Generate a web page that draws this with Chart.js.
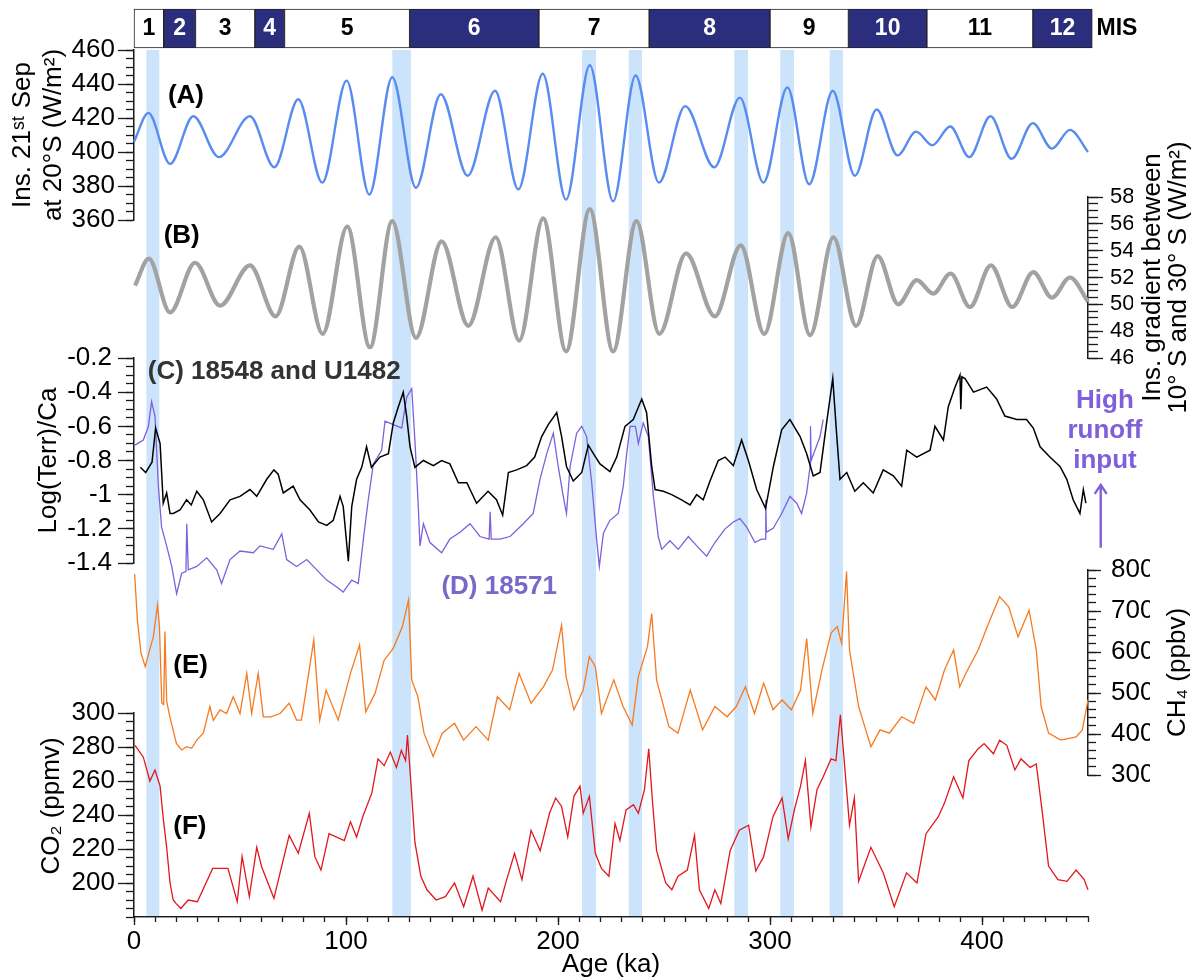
<!DOCTYPE html>
<html>
<head>
<meta charset="utf-8">
<script src="https://cdn.jsdelivr.net/npm/chart.js@4.4.1/dist/chart.umd.min.js"></script>
<style>
  html, body { margin: 0; padding: 0; background: #fff; }
  #wrap { position: relative; width: 1203px; height: 980px; }
  #wrap canvas { position: absolute; left: 0; top: 0; }
</style>
</head>
<body>
<div id="wrap">
  <canvas id="bands" width="1203" height="980"></canvas>
  <canvas id="panelA" width="1203" height="980"></canvas>
  <canvas id="panelB" width="1203" height="980"></canvas>
  <canvas id="panelC" width="1203" height="980"></canvas>
  <canvas id="panelE" width="1203" height="980"></canvas>
  <canvas id="panelF" width="1203" height="980"></canvas>
  <canvas id="mis" width="1203" height="980"></canvas>
</div>
<script>
// ---- data ----
// Marine isotope stages (ka)
const misStages = ['1', '2', '3', '4', '5', '6', '7', '8', '9', '10', '11', '12'];
const misStart = [0, 14, 29, 57, 71, 130, 191, 243, 300, 337, 374, 424];
const misEnd = [14, 29, 57, 71, 130, 191, 243, 300, 337, 374, 424, 452];

// highlighted intervals (ka)
const bandStart = [6, 122, 211.5, 233.5, 283.3, 305, 328.3];
const bandEnd = [11.8, 130.5, 217.8, 239.5, 289.5, 311.2, 334.3];

// (A) insolation 21st Sep at 20°S, W/m2
const insAge = [0, 6.8, 17, 28, 40, 54.7, 66.2, 77.5, 88.8, 100.3, 111, 121.8, 133, 144.7, 157.4, 170.3, 181.3, 192.8, 203.8, 215,
  226, 236.6, 247.6, 260, 273.7, 285.8, 296.9, 308.2, 318.5, 329.6, 340, 350.3, 360.2, 368.9, 376.6, 385, 394, 404, 414, 424, 433, 441.5, 450];
const insVal = [406, 423, 393, 421, 397, 421, 391, 431, 382, 442, 375, 444, 379, 434, 386, 436, 378, 446, 372, 451,
  371, 445, 382, 427, 391, 432, 382, 438, 381, 436, 386, 425, 398, 412, 404, 415, 397, 421, 396, 417, 402, 413, 400];

// (B) insolation gradient 10°S - 30°S, W/m2
const gradAge = [0.5, 7, 17, 28.8, 40.6, 54.7, 66.8, 78, 89, 100.6, 111.3, 121.8, 133, 145.1, 157.7, 170.6, 181.7, 193, 203.8, 215,
  226, 237, 247.8, 260.4, 274, 286.2, 297.3, 308.6, 318.9, 329.9, 340.6, 350.8, 360.5, 369.2, 377, 385.2, 394.3, 404.2, 414.3, 424.2, 433, 441.5, 450];
const gradVal = [51.4, 53.4, 49.4, 53.1, 49.9, 52.9, 49.1, 54.3, 47.8, 55.8, 46.8, 56.2, 47.5, 54.7, 48.4, 55.0, 47.3, 56.4, 46.5, 57.1,
  46.5, 56.2, 47.8, 53.8, 49.1, 54.4, 47.8, 55.3, 47.7, 55.0, 48.4, 53.6, 50.0, 51.8, 50.8, 52.3, 49.8, 52.9, 49.8, 52.4, 50.5, 52.0, 50.2];

// (C) Log(Terr/Ca) 18548 and U1482
const terrAge = [3, 5.5, 8.5, 10.2, 12.3, 13.8, 15.4, 17, 18.5, 21.7, 24.8, 27, 29.6, 32.7, 36.6, 40.6, 45.3, 50, 54.7, 57.9,
  62.6, 66, 68, 70.4, 75.1, 78.3, 83, 87, 90.9, 94, 97.2, 98.7, 101.1, 102.7, 105, 107.4, 109.7, 112, 116, 120,
  122.3, 124.7, 127, 128.6, 130.2, 132.5, 136.5, 141.2, 145.1, 149, 153, 157, 161.6, 167, 171, 173.9, 176.6, 180.5, 185.2, 189,
  192.3, 195.4, 199.4, 201.7, 204, 207.2, 211.2, 214.3, 216.7, 219.8, 224.5, 227.7, 231.6, 235.5, 239.5, 241.8, 244.2, 245.8, 249.7, 253.6,
  258.3, 262.3, 265.4, 268.5, 271.7, 275.6, 278.8, 282.7, 286.6, 289.8, 293.7, 297.9, 301.6, 305.5, 309.4, 314.2, 317.3, 320.4, 323.6, 326.7,
  329.6, 331.4, 333, 336.2, 340, 344, 348.7, 353.4, 358.2, 362.1, 364.5, 369.2, 375.5, 377.8, 381.8, 384.1, 387.3, 389.6, 390, 390.5,
  392, 396, 402.2, 406.9, 410.8, 416.4, 421, 424.2, 427.4, 432, 436.8, 440, 443, 446.2, 447.8, 449];
const terrC = [-0.84, -0.87, -0.81, -0.61, -0.70, -1.05, -0.99, -1.11, -1.11, -1.09, -1.03, -1.06, -0.98, -1.03, -1.16, -1.11, -1.03, -1.01, -0.97, -1.01,
  -0.91, -0.855, -0.88, -0.99, -0.95, -1.03, -1.09, -1.16, -1.18, -1.15, -1.01, -1.07, -1.39, -1.07, -0.91, -0.84, -0.72, -0.84, -0.78, -0.76,
  -0.58, -0.485, -0.40, -0.54, -0.72, -0.84, -0.80, -0.83, -0.80, -0.82, -0.93, -0.93, -1.05, -0.98, -1.03, -1.12, -0.87, -0.855, -0.83, -0.78,
  -0.66, -0.59, -0.52, -0.66, -0.835, -0.92, -0.87, -0.71, -0.76, -0.82, -0.865, -0.78, -0.60, -0.56, -0.44, -0.52, -0.835, -0.97, -0.98, -1.0,
  -1.03, -1.06, -1.0, -1.03, -0.92, -0.80, -0.78, -0.83, -0.68, -0.80, -0.97, -1.08, -0.835, -0.62, -0.56, -0.66, -0.76, -0.89, -0.87, -0.58,
  -0.32, -0.64, -0.91, -0.87, -0.98, -0.93, -0.99, -0.855, -0.89, -0.95, -0.74, -0.78, -0.74, -0.60, -0.68, -0.485, -0.37, -0.30, -0.50, -0.31,
  -0.32, -0.40, -0.37, -0.44, -0.54, -0.56, -0.56, -0.61, -0.72, -0.78, -0.835, -0.91, -1.03, -1.11, -0.97, -1.05];

// (D) Log(Terr/Ca) 18571
const runAge = [0.5, 4.4, 6.8, 8.3, 9.9, 11.5, 13, 15.4, 17.8, 20.1, 22.5, 24.5, 24.9, 25.6, 29.6, 34.3, 39, 41.3, 45.3, 50,
  56.3, 59.4, 65.7, 69.7, 72, 76.7, 81.5, 86.2, 90.9, 95.6, 98.7, 102.7, 105.8, 108.2, 110.5, 112.9, 116.8, 118.4, 122.3, 126.3,
  128.6, 131, 132.5, 134.1, 134.9, 136.5, 139.6, 145.1, 149, 153.8, 158.5, 163.2, 167.5, 168, 168.5, 172.6, 177.4, 183.6, 188.3, 191.5,
  194.7, 197.8, 200.1, 202.5, 204, 205.7, 208.8, 211.2, 213.5, 215.9, 218.2, 219.5, 221.4, 224.5, 228.4, 230.8, 232.4, 234, 236.5, 237.9,
  240.2, 242.6, 245, 247.3, 248.9, 252.8, 256.7, 261.5, 266.2, 270.1, 274, 278.8, 282.7, 285.8, 289, 292.9, 296, 297.8, 298, 298.3,
  301.6, 305.5, 309.4, 312.6, 314.9, 317.3, 318.9, 319.1, 319.4, 321.2, 323.6, 325.1];
const runD = [-0.71, -0.68, -0.60, -0.455, -0.54, -0.95, -1.19, -1.30, -1.42, -1.58, -1.46, -1.45, -1.17, -1.44, -1.42, -1.37, -1.44, -1.52, -1.38, -1.33,
  -1.34, -1.30, -1.32, -1.23, -1.38, -1.42, -1.38, -1.44, -1.50, -1.54, -1.57, -1.50, -1.52, -1.26, -1.03, -0.82, -0.74, -0.57, -0.59, -0.61,
  -0.43, -0.38, -0.68, -1.07, -1.30, -1.17, -1.28, -1.34, -1.26, -1.22, -1.17, -1.245, -1.26, -1.10, -1.26, -1.26, -1.245, -1.17, -1.11, -0.91,
  -0.76, -0.64, -0.835, -1.01, -1.11, -0.835, -0.64, -0.60, -0.66, -0.93, -1.26, -1.42, -1.225, -1.15, -1.11, -0.95, -0.76, -0.60, -0.60, -0.70,
  -0.58, -0.66, -1.01, -1.245, -1.32, -1.27, -1.32, -1.245, -1.31, -1.36, -1.28, -1.20, -1.16, -1.14, -1.19, -1.28, -1.26, -1.26, -1.03, -1.22,
  -1.195, -1.11, -1.01, -1.05, -1.11, -0.99, -0.835, -0.60, -0.80, -0.74, -0.66, -0.56];

// (E) CH4, ppbv
const ch4Age = [0.3, 1.6, 3.3, 5.3, 7.4, 9.1, 11.1, 12, 13.1, 14, 14.6, 15.4, 17, 20, 22.5, 24.8, 27.2, 29.6, 32.7, 35.8,
  37.4, 40.6, 43.7, 46.8, 50, 53.2, 55.5, 58.6, 61, 64.5, 68.9, 73.2, 76.7, 79, 84.8, 87.6, 90.6, 96.3, 102.1, 106.4,
  109.3, 113.7, 118, 122.3, 126.6, 129.5, 131, 133.9, 136.8, 141.1, 145.4, 151.2, 155.5, 161.3, 167.1, 171.4, 177.2, 181.6, 187.3, 193.1,
  197.4, 201.7, 203.8, 207.5, 211.9, 214.8, 217.6, 220.5, 226.3, 230.7, 235, 237.9, 242.2, 244.2, 246.5, 252.3, 256.6, 262.4, 268.2, 274,
  279.8, 284.1, 288.4, 292.7, 297, 301.4, 305.7, 310.1, 314.4, 317.3, 320.2, 324.5, 328.8, 331.7, 333.8, 336.1, 337.5, 341.8, 344.7, 347.6,
  351.9, 356.3, 362.1, 367.8, 373.6, 378, 382.3, 386.6, 389.5, 392.4, 398.2, 402.5, 408.3, 412.6, 417, 422.2, 425.6, 427.9, 431.4, 437.2,
  444.4, 447.3, 450];
const ch4Val = [790, 678, 597, 564, 605, 637, 715, 662, 475, 472, 650, 480, 440, 377, 361, 369, 365, 385, 402, 467,
  433, 459, 450, 491, 450, 548, 450, 548, 442, 442, 450, 475, 434, 434, 629, 434, 507, 434, 548, 617,
  454, 499, 580, 609, 662, 727, 532, 491, 402, 345, 402, 426, 385, 418, 385, 491, 459, 548, 475, 515,
  556, 666, 540, 459, 507, 589, 564, 450, 532, 467, 422, 540, 613, 694, 532, 418, 402, 507, 410, 467,
  442, 467, 515, 450, 524, 459, 483, 459, 507, 633, 450, 556, 646, 662, 621, 796, 605, 467, 418, 369,
  410, 402, 442, 426, 515, 483, 556, 605, 515, 548, 605, 662, 735, 710, 637, 702, 605, 467, 402, 385,
  393, 410, 483];

// (F) CO2, ppmv
const co2Age = [0.5, 4.4, 7.5, 9.9, 12.3, 13.8, 15.4, 17, 18.5, 19.8, 22.1, 25.6, 29.9, 37.1, 44.3, 48.7, 51, 54.4, 57.9, 60.2,
  66, 73.2, 77.5, 82.7, 85.3, 88.2, 92, 99.2, 102.1, 105, 107.9, 112.2, 115.1, 118, 120.9, 123.8, 126.1, 128.1, 129, 130.4,
  132.5, 135.3, 138.2, 142.5, 146.9, 151.2, 155.5, 159.9, 164.2, 167.1, 172.9, 175.8, 179.5, 183, 187.3, 191.6, 196, 198.9, 201.7, 204.6,
  207.5, 210.4, 211.9, 214.8, 217.6, 220.5, 224, 226.9, 229.2, 232.1, 235.6, 237.9, 240.8, 242.8, 244.5, 246.5, 250.8, 253.7, 256.6, 261,
  264.4, 266.7, 271.1, 274, 276.8, 281.2, 285.5, 289.9, 293.3, 297, 301.4, 305.7, 308.6, 311.5, 314.4, 316.7, 319.3, 322.2, 325.1, 328.8,
  331.1, 333.2, 335.5, 337.5, 339.8, 341.8, 347.6, 353.4, 358.6, 364.4, 369.3, 373.6, 379.4, 382.3, 386.6, 391, 393.8, 398.2, 401, 405.4,
  408.3, 411.7, 415.5, 418.4, 422.7, 425.6, 428.5, 431.4, 435.8, 440.1, 444.4, 448.2, 450];
const co2Val = [281, 274, 260, 266.5, 257, 238, 221, 200, 190, 188, 185, 190, 189, 208.6, 208.6, 189, 215.5, 192, 221, 209.6,
  191, 228, 217.5, 241, 215.5, 207.6, 229, 225, 236, 227, 239, 253, 273, 269, 277, 268, 278, 272, 287, 262.5,
  224, 204, 196, 190, 192, 200, 186, 204, 184, 197, 189, 202, 217.5, 202, 231, 219, 241, 250, 245, 227,
  251, 257, 241, 251, 217.5, 208.6, 204, 235, 225, 243, 246, 241, 255, 279, 249, 219, 200, 196, 204, 207.6,
  228, 196, 185, 196, 188, 219, 231, 234, 207, 215.5, 239, 250, 226, 243, 257, 272, 233, 255, 262.5, 273,
  272, 299, 264.5, 234, 250, 201, 221, 206, 186, 206, 200, 229, 239, 247, 262.5, 250, 272, 279, 282, 276,
  284, 281, 266.5, 273, 268, 270, 241, 210, 202, 201, 207.6, 202, 196];

// tick labels
const ageTicks = [0, 100, 200, 300, 400];
const insTicks = [360, 380, 400, 420, 440, 460];
const gradTicks = [46, 48, 50, 52, 54, 56, 58];
const terrTicks = [-1.4, -1.2, -1, -0.8, -0.6, -0.4, -0.2];
const ch4Ticks = [300, 400, 500, 600, 700, 800];
const co2Ticks = [200, 220, 240, 260, 280, 300];

// ---- layout ----
const W = 1203, H = 980;
const PLOT_L = 134, PLOT_R = 1088;
const FS = 26;
const FONT = '"Liberation Sans", Arial, sans-serif';
const NARROW = '"Liberation Sans Narrow", "Arial Narrow", "Liberation Sans", sans-serif';
const AXIS = '#1a1a1a';
const BAND = 'rgb(204, 228, 251)';
const NAVY = 'rgb(43, 46, 124)';
const PURPLE = 'rgb(126, 96, 220)';

function steps(a, b, s) {
  const out = [];
  for (let v = a; v <= b + 1e-9; v += s) out.push(+v.toFixed(6));
  return out;
}
function pts(xs, ys) { return xs.map((x, i) => ({ x: x, y: ys[i] })); }

// free text, rotated axis titles and the runoff arrow
const annot = {
  id: 'annot',
  afterDatasetsDraw(chart, args, opts) {
    const { ctx, chartArea, scales } = chart;
    (opts.items || []).forEach(it => {
      ctx.save();
      ctx.fillStyle = it.color || '#000';
      ctx.strokeStyle = it.color || '#000';
      ctx.font = it.font || ('bold ' + FS + 'px ' + FONT);
      ctx.textBaseline = 'middle';
      ctx.textAlign = it.align || 'left';
      if (it.arrow) {
        const px = scales.x.getPixelForValue(it.x);
        const p1 = scales.y.getPixelForValue(it.y1);
        const p2 = scales.y.getPixelForValue(it.y2);
        ctx.lineWidth = 2.4;
        ctx.beginPath();
        ctx.moveTo(px, p1); ctx.lineTo(px, p2);
        ctx.moveTo(px - 6, p2 + 9); ctx.lineTo(px, p2); ctx.lineTo(px + 6, p2 + 9);
        ctx.stroke();
      } else if (it.rotate) {
        const cx = it.side === 'left' ? chartArea.left - it.dx : chartArea.right + it.dx;
        ctx.translate(cx, (chartArea.top + chartArea.bottom) / 2 + (it.dy || 0));
        ctx.rotate(-Math.PI / 2);
        ctx.fillText(it.text, 0, 0);
      } else {
        ctx.fillText(it.text, scales.x.getPixelForValue(it.x), scales.y.getPixelForValue(it.y));
      }
      ctx.restore();
    });
  }
};
Chart.register(annot);

function base(pad, scales, items) {
  return {
    responsive: false, animation: false, devicePixelRatio: 1, events: [],
    layout: { padding: pad, autoPadding: false },
    scales: scales,
    plugins: { legend: { display: false }, tooltip: { enabled: false }, annot: { items: items || [] } }
  };
}

const xHidden = { type: 'linear', min: 0, max: 450, display: false };

function yPair(side, o) {
  const border = { color: AXIS, width: 1.3 };
  return {
    y: {
      type: 'linear', position: side, min: o.min, max: o.max, weight: 1,
      afterBuildTicks: s => { s.ticks = o.ticks.map(v => ({ value: v })); },
      afterFit: s => { s.width = o.width; },
      grid: { drawOnChartArea: false, tickLength: o.majorLen, tickColor: AXIS, tickWidth: 1.3 },
      border: border,
      ticks: { color: '#000', font: { family: FONT, size: o.fs || FS }, padding: o.pad, autoSkip: false, callback: v => String(v) },
      title: o.title ? {
        display: true, text: o.title, color: '#000',
        font: { family: FONT, size: FS, lineHeight: 1.2 }, padding: { top: 2, bottom: 2 }
      } : { display: false }
    },
    yMinor: {
      type: 'linear', position: side, min: o.min, max: o.max, weight: 0,
      afterBuildTicks: s => { s.ticks = o.minor.map(v => ({ value: v })); },
      afterFit: s => { s.width = 0; },
      grid: { drawOnChartArea: false, tickLength: o.minorLen, tickColor: AXIS, tickWidth: 1.3 },
      border: border,
      ticks: { display: false }
    }
  };
}

function line(data, color, width, smooth) {
  return {
    data: data, borderColor: color, borderWidth: width, pointRadius: 0, fill: false,
    tension: 0, cubicInterpolationMode: smooth ? 'monotone' : 'default', clip: false
  };
}

// ---- highlighted bands ----
new Chart(document.getElementById('bands'), {
  type: 'bar',
  data: {
    labels: ['band'],
    datasets: bandStart.map((s, i) => ({
      data: [[s, bandEnd[i]]], backgroundColor: BAND, borderWidth: 0,
      barPercentage: 1, categoryPercentage: 1, grouped: false
    }))
  },
  options: Object.assign(base({ left: PLOT_L, right: W - PLOT_R, top: 50, bottom: H - 917 }, {
    x: xHidden, y: { type: 'category', display: false }
  }), { indexAxis: 'y' })
});

// ---- (A) ----
const sA = yPair('left', {
  min: 360, max: 460, ticks: insTicks, minor: steps(360, 460, 5), width: 129, majorLen: 16, minorLen: 8, pad: 3,
  title: ['Ins. 21\u02E2\u1D57 Sep', 'at 20\u00B0S (W/m\u00B2)']
});
new Chart(document.getElementById('panelA'), {
  type: 'line',
  data: { datasets: [line(pts(insAge, insVal), 'rgb(88, 140, 240)', 2.4, true)] },
  options: base({ left: PLOT_L - 129, right: W - PLOT_R, top: 50, bottom: H - 220 },
    { x: xHidden, y: sA.y, yMinor: sA.yMinor },
    [{ text: '(A)', x: 16, y: 433 }])
});

// ---- (B) ----
const sB = yPair('right', {
  min: 46, max: 58, ticks: gradTicks, minor: steps(46, 58, 0.5), width: 45, majorLen: 15, minorLen: 10, pad: 7, fs: 22
});
new Chart(document.getElementById('panelB'), {
  type: 'line',
  data: { datasets: [line(pts(gradAge, gradVal), 'rgb(162, 162, 162)', 4.2, true)] },
  options: base({ left: PLOT_L, right: W - PLOT_R - 45, top: 197, bottom: H - 358 },
    { x: xHidden, y: sB.y, yMinor: sB.yMinor },
    [
      { text: '(B)', x: 14, y: 55.1 },
      { text: 'Ins. gradient between', rotate: true, dx: 65, align: 'center', font: FS + 'px ' + FONT },
      { text: '10\u00B0 S and 30\u00B0 S (W/m\u00B2)', rotate: true, dx: 91, align: 'center', font: FS + 'px ' + FONT }
    ])
});

// ---- (C) and (D) ----
const sC = yPair('left', {
  min: -1.4, max: -0.2, ticks: terrTicks, minor: steps(-1.4, -0.2, 0.05), width: 103, majorLen: 16, minorLen: 8, pad: 6,
  title: 'Log(Terr)/Ca'
});
new Chart(document.getElementById('panelC'), {
  type: 'line',
  data: {
    datasets: [
      line(pts(terrAge, terrC), '#000', 1.5, false),
      line(pts(runAge, runD), PURPLE, 1.3, false)
    ]
  },
  options: base({ left: PLOT_L - 103, right: W - PLOT_R, top: 358, bottom: H - 563 },
    { x: xHidden, y: sC.y, yMinor: sC.yMinor },
    [
      { text: '(C) 18548 and U1482', x: 6.5, y: -0.28, color: '#333' },
      { text: '(D) 18571', x: 145, y: -1.537, color: 'rgb(122, 104, 200)' },
      { text: 'High', x: 458, y: -0.451, align: 'center', color: PURPLE },
      { text: 'runoff', x: 458, y: -0.627, align: 'center', color: PURPLE },
      { text: 'input', x: 458, y: -0.802, align: 'center', color: PURPLE },
      { arrow: true, x: 456, y1: -1.311, y2: -0.943, color: PURPLE }
    ])
});

// ---- (E) ----
const sE = yPair('right', {
  min: 300, max: 800, ticks: ch4Ticks, minor: steps(300, 800, 20), width: 62, majorLen: 13, minorLen: 8, pad: 10
});
new Chart(document.getElementById('panelE'), {
  type: 'line',
  data: { datasets: [line(pts(ch4Age, ch4Val), 'rgb(245, 122, 32)', 1.3, false)] },
  options: base({ left: PLOT_L, right: W - PLOT_R - 62, top: 570, bottom: H - 775 },
    { x: xHidden, y: sE.y, yMinor: sE.yMinor },
    [
      { text: '(E)', x: 18.5, y: 566 },
      { text: 'CH\u2084 (ppbv)', rotate: true, dx: 90, align: 'center', font: FS + 'px ' + FONT }
    ])
});

// ---- (F) with age axis ----
const sF = yPair('left', {
  min: 180, max: 300, ticks: co2Ticks, minor: steps(180, 300, 5), width: 99, majorLen: 16, minorLen: 8, pad: 3
});
const X_H = 63;
new Chart(document.getElementById('panelF'), {
  type: 'line',
  data: { datasets: [line(pts(co2Age, co2Val), 'rgb(226, 22, 28)', 1.3, false)] },
  options: base({ left: PLOT_L - 99, right: W - PLOT_R, top: 713, bottom: H - 917 - X_H },
    {
      x: {
        type: 'linear', position: 'bottom', min: 0, max: 450, weight: 1,
        afterBuildTicks: s => { s.ticks = ageTicks.map(v => ({ value: v })); },
        afterFit: s => { s.height = X_H; },
        grid: { drawOnChartArea: false, tickLength: 8, tickColor: AXIS, tickWidth: 1.3 },
        border: { color: AXIS, width: 1.3 },
        ticks: { color: '#000', font: { family: FONT, size: FS }, padding: 1, maxRotation: 0, autoSkip: false, callback: v => String(v) },
        title: { display: true, text: 'Age (ka)', color: '#000', font: { family: FONT, size: FS }, padding: { top: 0, bottom: 0 } }
      },
      xMinor: {
        type: 'linear', position: 'bottom', min: 0, max: 450, weight: 0,
        afterBuildTicks: s => { s.ticks = steps(0, 450, 10).map(v => ({ value: v })); },
        afterFit: s => { s.height = 0; },
        grid: { drawOnChartArea: false, tickLength: 5, tickColor: AXIS, tickWidth: 1.3 },
        border: { color: AXIS, width: 1.3 },
        ticks: { display: false }
      },
      y: sF.y, yMinor: sF.yMinor
    },
    [
      { text: '(F)', x: 18.5, y: 233 },
      { text: 'CO\u2082 (ppmv)', rotate: true, side: 'left', dx: 82, dy: -9, align: 'center', font: FS + 'px ' + FONT }
    ])
});

// ---- MIS bar ----
new Chart(document.getElementById('mis'), {
  type: 'bar',
  data: {
    labels: ['MIS'],
    datasets: misStart.map((s, i) => ({
      data: [[s, misEnd[i]]], backgroundColor: i % 2 ? NAVY : '#fff',
      borderColor: '#222', borderWidth: 1, borderSkipped: false,
      barPercentage: 1, categoryPercentage: 1, grouped: false, clip: false
    }))
  },
  options: Object.assign(base({ left: PLOT_L, right: W - PLOT_R, top: 9, bottom: H - 48 }, {
    x: xHidden, y: { type: 'category', display: false }
  }, misStages.map((t, i) => ({
    text: t, x: (misStart[i] + misEnd[i]) / 2, y: 0, align: 'center',
    color: i % 2 ? '#fff' : '#000', font: 'bold 23px ' + NARROW
  })).concat([{ text: 'MIS', x: 454, y: 0, font: 'bold 23px ' + NARROW }])), { indexAxis: 'y' })
});
</script>
</body>
</html>
